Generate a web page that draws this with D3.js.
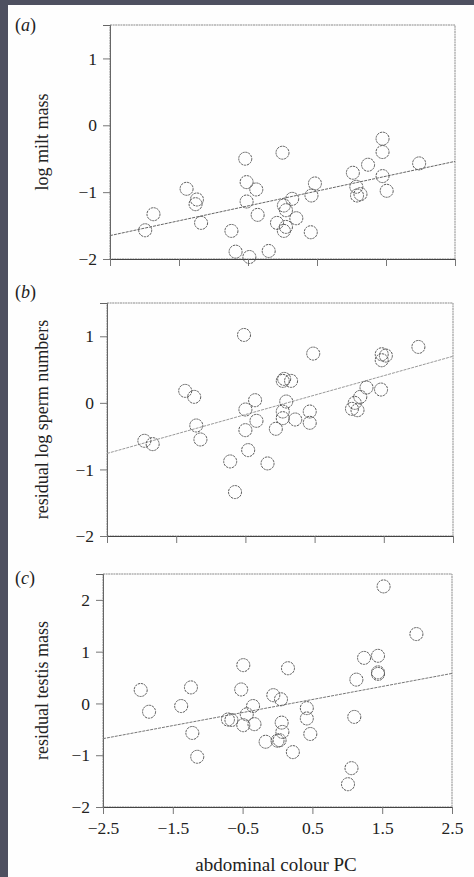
<!DOCTYPE html>
<html><head><meta charset="utf-8">
<script src="https://cdn.jsdelivr.net/npm/d3@7"></script>
<style>
html,body{margin:0;padding:0;background:#fff;}
svg{display:block;}
text{font-family:"Liberation Serif","Times New Roman",serif;fill:#222;}
</style></head>
<body>
<script>
// ---------- DATA ----------
const xTickValues = [-2.5, -1.5, -0.5, 0.5, 1.5, 2.5];
const xTickLabels = ["\u22122.5", "\u22121.5", "\u22120.5", "0.5", "1.5", "2.5"];
const xTitle = "abdominal colour PC";

// panel (a): log milt mass
const aTitle = "log milt mass";
const aTicks = [1, 0, -1, -2];
const aX = [-1.99,-1.87,-1.39,-1.24,-1.26,-1.18,-0.74,-0.68,-0.54,-0.52,-0.38,-0.52,-0.36,-0.48,-0.20,0.00,-0.08,0.02,0.05,0.05,0.02,0.14,0.20,0.42,0.47,0.41,1.02,1.07,1.08,1.13,1.24,1.45,1.45,1.45,1.51,1.98];
const aY = [-1.57,-1.33,-0.95,-1.11,-1.18,-1.46,-1.58,-1.89,-0.50,-0.85,-0.96,-1.14,-1.34,-1.97,-1.88,-0.41,-1.46,-1.20,-1.27,-1.52,-1.58,-1.10,-1.39,-1.05,-0.87,-1.60,-0.71,-0.92,-1.05,-1.03,-0.59,-0.20,-0.40,-0.76,-0.98,-0.57];
const aFit = [-1.65, -0.54]; // fitted values at x = -2.5 and 2.5

// panel (b): residual log sperm numbers
const bTitle = "residual log sperm numbers";
const bTicks = [1, 0, -1, -2];
const bX = [-1.96,-1.84,-1.37,-1.24,-1.21,-1.15,-0.72,-0.65,-0.52,-0.50,-0.50,-0.36,-0.34,-0.46,-0.18,-0.06,0.04,0.06,0.16,0.09,0.04,0.04,0.22,0.48,0.43,0.43,1.04,1.08,1.12,1.16,1.25,1.46,1.47,1.53,1.47,2.00];
const bY = [-0.57,-0.62,0.18,0.09,-0.34,-0.55,-0.88,-1.34,1.02,-0.10,-0.41,0.04,-0.27,-0.71,-0.91,-0.39,0.33,0.36,0.33,0.02,-0.13,-0.23,-0.25,0.74,-0.13,-0.30,-0.09,0.00,-0.11,0.09,0.23,0.20,0.73,0.71,0.64,0.84];
const bFit = [-0.76, 0.70];

// panel (c): residual testis mass
const cTitle = "residual testis mass";
const cTicks = [2, 1, 0, -1, -2];
const cX = [-1.96,-1.84,-1.38,-1.24,-1.22,-1.15,-0.71,-0.66,-0.49,-0.52,-0.49,-0.44,-0.35,-0.33,-0.17,-0.06,0.05,0.15,0.06,0.07,0.03,0.00,0.22,0.42,0.42,0.47,1.01,1.06,1.10,1.13,1.24,1.44,1.44,1.44,1.52,1.99];
const cY = [0.26,-0.16,-0.05,0.31,-0.57,-1.03,-0.31,-0.32,0.74,0.27,-0.42,-0.21,-0.05,-0.40,-0.74,0.16,0.08,0.68,-0.37,-0.55,-0.71,-0.72,-0.94,-0.09,-0.29,-0.59,-1.56,-1.25,-0.26,0.46,0.88,0.92,0.60,0.57,2.26,1.34];
const cFit = [-0.68, 0.58];

// ---------- LAYOUT ----------
const W = 474, H = 877;
const svg = d3.select("body").append("svg").attr("width", W).attr("height", H);
svg.append("rect").attr("width", W).attr("height", H).attr("fill", "#fefefe");
svg.append("rect").attr("x", 0).attr("y", 0).attr("width", 8).attr("height", H).attr("fill", "#4e5060");
svg.append("rect").attr("x", 0).attr("y", 0).attr("width", W).attr("height", 5).attr("fill", "#4e5060");

const panels = [
  {label: "a", title: aTitle, ticks: aTicks, xs: aX, ys: aY, fit: aFit, dom: [-2, 1.5],
   left: 110, right: 455, top: 25, bottom: 259, labelY: 31, lineColor: "#666"},
  {label: "b", title: bTitle, ticks: bTicks, xs: bX, ys: bY, fit: bFit, dom: [-2, 1.5],
   left: 107, right: 453, top: 303, bottom: 536, labelY: 298, lineColor: "#999"},
  {label: "c", title: cTitle, ticks: cTicks, xs: cX, ys: cY, fit: cFit, dom: [-2, 2.5],
   left: 103, right: 452, top: 574, bottom: 807, labelY: 584, lineColor: "#777", xlabels: true}
];

panels.forEach(p => {
  const x = d3.scaleLinear().domain([-2.5, 2.5]).range([p.left, p.right]);
  const y = d3.scaleLinear().domain(p.dom).range([p.bottom, p.top]);
  const g = svg.append("g");

  // frame
  g.append("rect").attr("x", p.left).attr("y", p.top)
    .attr("width", p.right - p.left).attr("height", p.bottom - p.top)
    .attr("fill", "none").attr("stroke", "#8a8a8a").attr("stroke-width", 1)
    .attr("stroke-dasharray", "2,0.6");

  // y axis
  const yAxis = d3.axisLeft(y).tickValues(p.ticks)
    .tickFormat(d => d < 0 ? "\u2212" + Math.abs(d) : String(d))
    .tickSize(7).tickPadding(6);
  const ya = g.append("g").attr("transform", `translate(${p.left},0)`).call(yAxis);
  ya.select(".domain").attr("stroke", "#666");
  ya.selectAll(".tick line").attr("stroke", "#777");
  ya.selectAll(".tick text").attr("font-size", 17.5).attr("fill", "#222")
    .style("font-family", "'Liberation Serif', serif");

  // x axis
  const xAxis = d3.axisBottom(x).tickValues(xTickValues)
    .tickFormat((d, i) => p.xlabels ? xTickLabels[i] : "")
    .tickSize(7).tickPadding(8);
  const xa = g.append("g").attr("transform", `translate(0,${p.bottom})`).call(xAxis);
  xa.select(".domain").attr("stroke", "#444");
  xa.selectAll(".tick line").attr("stroke", "#777");
  xa.selectAll(".tick text").attr("font-size", 17.5).attr("fill", "#222")
    .style("font-family", "'Liberation Serif', serif");

  // regression line
  g.append("line")
    .attr("x1", x(-2.5)).attr("y1", y(p.fit[0]))
    .attr("x2", x(2.5)).attr("y2", y(p.fit[1]))
    .attr("stroke", p.lineColor).attr("stroke-width", 1)
    .attr("stroke-dasharray", "3,1");

  // points
  g.selectAll("circle.pt").data(p.xs.map((v, i) => [v, p.ys[i]])).join("circle")
    .attr("class", "pt")
    .attr("cx", d => x(d[0])).attr("cy", d => y(d[1])).attr("r", 6.5)
    .attr("fill", "none").attr("stroke", "#5a5a5a").attr("stroke-width", 1)
    .attr("stroke-dasharray", "2.2,0.8");

  // y title
  const cy = (p.top + p.bottom) / 2;
  g.append("text").attr("transform", `translate(48,${cy}) rotate(-90)`)
    .attr("text-anchor", "middle").attr("font-size", 18).text(p.title);

  // panel label
  const lt = g.append("text").attr("x", 15).attr("y", p.labelY).attr("font-size", 18);
  lt.append("tspan").text("(");
  lt.append("tspan").attr("font-style", "italic").text(p.label);
  lt.append("tspan").text(")");
});

// x title
svg.append("text").attr("x", 276).attr("y", 871).attr("text-anchor", "middle")
  .attr("font-size", 19).text(xTitle);
</script>
</body></html>
